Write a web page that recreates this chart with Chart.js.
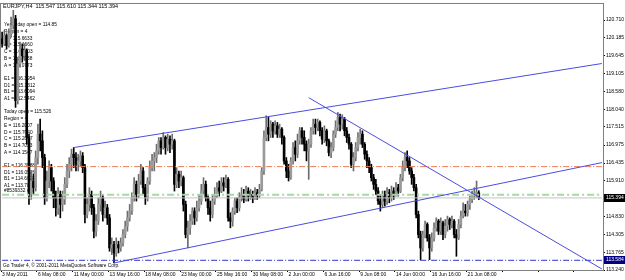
<!DOCTYPE html>
<html>
<head>
<meta charset="utf-8">
<script src="https://cdn.jsdelivr.net/npm/chart.js@4.4.0/dist/chart.umd.min.js"></script>
<style>
  html, body { margin: 0; padding: 0; background: #fff; }
  canvas { display: block; }
</style>
</head>
<body>
<canvas id="chart" width="625" height="280"></canvas>
<script>
// EURJPY H4, 3 May 2011 16:00 .. 22 Jun 2011 04:00 (one value per 4h bar)
const opens = [
  120.15,120.00,120.25,119.95,120.30,120.55,120.75,118.30,119.40,119.85,
  119.65,119.80,117.20,115.50,115.90,115.70,116.60,117.30,117.10,116.60,
  115.40,115.90,116.30,115.90,115.40,115.10,115.50,115.20,115.35,115.80,
  116.20,116.40,116.70,116.60,116.40,116.50,116.65,116.30,114.90,115.20,
  115.50,115.10,114.40,114.70,115.20,115.40,114.90,115.10,114.80,113.90,
  114.00,113.75,114.00,113.90,114.05,114.30,114.55,114.80,115.00,115.40,
  115.80,115.50,115.90,116.20,115.70,115.40,115.90,116.30,116.50,116.60,
  116.80,117.10,116.90,117.20,116.90,117.15,117.00,117.10,115.80,116.10,
  115.90,116.00,115.20,114.30,114.50,114.70,115.00,114.80,115.10,115.30,
  115.60,115.80,115.40,115.10,114.90,115.30,115.50,115.70,115.60,115.85,
  115.75,115.95,114.80,114.70,115.00,115.30,115.10,115.40,115.50,115.35,
  115.60,115.45,115.50,115.40,115.55,115.50,115.65,116.20,117.20,117.50,
  117.30,117.60,117.40,117.55,117.30,117.45,117.20,116.50,116.20,116.00,
  116.50,116.90,116.70,117.10,117.40,117.20,117.00,116.80,117.00,117.40,
  117.60,117.50,117.65,117.40,117.15,117.40,117.10,116.75,116.90,117.30,
  117.50,117.80,117.60,117.75,117.40,117.20,117.00,116.40,116.60,116.90,
  117.20,117.30,117.00,116.70,116.50,116.30,116.00,115.80,115.60,115.30,
  115.20,115.50,115.30,115.55,115.40,115.60,115.50,115.70,115.60,116.00,
  116.30,116.60,116.50,116.20,116.00,115.70,114.90,114.30,113.90,114.30,
  114.60,114.20,113.90,114.20,114.50,114.70,114.40,114.65,114.30,114.55,
  114.75,114.60,114.70,114.30,114.20,114.60,114.85,115.00,114.95,115.20,
  115.35,115.45,115.53,115.547
];
const highs = [
  120.35,120.40,120.30,120.45,120.80,121.00,120.85,119.60,120.05,120.00,
  120.00,119.85,117.30,116.20,116.10,116.80,117.60,117.75,117.40,116.70,
  116.20,116.50,116.40,116.00,115.60,115.70,115.60,115.60,116.00,116.40,
  116.60,116.85,116.90,116.75,116.70,116.80,116.75,116.40,115.40,115.70,
  115.60,115.20,114.90,115.40,115.60,115.50,115.30,115.20,114.90,114.20,
  114.10,114.20,114.10,114.20,114.45,114.70,115.00,115.20,115.55,116.00,
  115.90,116.10,116.40,116.30,115.80,116.00,116.50,116.70,116.75,117.00,
  117.20,117.20,117.35,117.25,117.30,117.25,117.30,117.15,116.30,116.20,
  116.20,116.05,115.30,114.70,114.90,115.10,115.10,115.30,115.50,115.80,
  116.00,115.90,115.50,115.30,115.50,115.70,115.85,115.90,116.00,116.00,
  116.08,116.00,114.95,115.10,115.40,115.40,115.55,115.70,115.65,115.75,
  115.70,115.65,115.60,115.70,115.65,115.80,116.30,117.40,117.85,117.80,
  117.70,117.65,117.70,117.65,117.60,117.50,117.25,116.60,116.40,116.60,
  117.05,117.10,117.30,117.50,117.50,117.40,117.10,117.15,117.50,117.75,
  117.75,117.75,117.70,117.50,117.55,117.45,117.15,117.05,117.40,117.70,
  117.95,117.90,117.88,117.80,117.50,117.30,117.05,116.75,117.05,117.35,
  117.45,117.40,117.05,116.80,116.60,116.40,116.10,115.95,115.70,115.50,
  115.60,115.60,115.70,115.65,115.75,115.70,115.85,115.80,116.10,116.50,
  116.75,116.80,116.60,116.30,116.10,115.80,115.00,114.40,114.40,114.70,
  114.65,114.30,114.35,114.65,114.80,114.75,114.80,114.70,114.75,114.85,
  114.80,114.85,114.75,114.45,114.75,115.00,115.25,115.20,115.30,115.45,
  115.60,115.70,115.90,115.610
];
const lows = [
  119.90,119.95,119.85,119.90,120.20,120.45,118.10,118.20,119.30,119.45,
  119.50,117.00,115.20,115.35,115.50,115.60,116.40,116.80,116.30,115.20,
  115.30,115.70,115.60,115.10,114.85,114.90,114.80,115.00,115.20,115.70,
  116.00,116.20,116.30,116.20,116.20,116.35,116.15,114.65,114.80,115.00,
  114.90,114.20,114.25,114.60,115.00,114.70,114.80,114.60,113.80,113.70,
  113.45,113.65,113.75,113.80,113.95,114.20,114.40,114.70,114.90,115.30,
  115.30,115.40,115.80,115.50,115.20,115.30,115.80,116.20,116.20,116.45,
  116.70,116.70,116.85,116.70,116.80,116.75,116.85,115.60,115.70,115.70,
  115.75,115.00,114.20,113.90,114.30,114.60,114.60,114.70,115.00,115.20,
  115.50,115.30,114.90,114.70,114.80,115.20,115.40,115.45,115.55,115.60,
  115.70,114.70,114.50,114.55,114.90,114.95,115.00,115.30,115.25,115.30,
  115.30,115.35,115.25,115.35,115.35,115.40,115.60,116.10,117.10,117.10,
  117.20,117.20,117.30,117.20,117.20,117.00,116.40,116.00,115.90,115.95,
  116.40,116.50,116.60,117.00,117.00,116.80,116.50,115.95,116.90,117.30,
  117.30,117.40,117.25,117.00,117.05,116.95,116.65,116.60,116.80,117.20,
  117.40,117.40,117.45,117.25,117.05,116.85,116.30,116.20,116.50,116.80,
  117.00,116.90,116.55,116.30,116.15,115.90,115.65,115.50,115.20,115.00,
  115.10,115.15,115.20,115.25,115.30,115.35,115.45,115.45,115.55,115.90,
  116.20,116.30,116.10,115.80,115.60,114.80,114.20,113.55,113.80,114.20,
  114.10,113.55,113.80,114.10,114.40,114.30,114.30,114.15,114.20,114.40,
  114.45,114.50,114.20,113.65,114.15,114.50,114.80,114.85,114.85,115.05,
  115.25,115.35,115.40,115.344
];
const closes = [
  120.00,120.25,119.95,120.30,120.55,120.75,118.30,119.40,119.85,119.65,
  119.80,117.20,115.50,115.90,115.70,116.60,117.30,117.10,116.60,115.40,
  115.90,116.30,115.90,115.40,115.10,115.50,115.20,115.35,115.80,116.20,
  116.40,116.70,116.60,116.40,116.50,116.65,116.30,114.90,115.20,115.50,
  115.10,114.40,114.70,115.20,115.40,114.90,115.10,114.80,113.90,114.00,
  113.75,114.00,113.90,114.05,114.30,114.55,114.80,115.00,115.40,115.80,
  115.50,115.90,116.20,115.70,115.40,115.90,116.30,116.50,116.60,116.80,
  117.10,116.90,117.20,116.90,117.15,117.00,117.10,115.80,116.10,115.90,
  116.00,115.20,114.30,114.50,114.70,115.00,114.80,115.10,115.30,115.60,
  115.80,115.40,115.10,114.90,115.30,115.50,115.70,115.60,115.85,115.75,
  115.95,114.80,114.70,115.00,115.30,115.10,115.40,115.50,115.35,115.60,
  115.45,115.50,115.40,115.55,115.50,115.65,116.20,117.20,117.50,117.30,
  117.60,117.40,117.55,117.30,117.45,117.20,116.50,116.20,116.00,116.50,
  116.90,116.70,117.10,117.40,117.20,117.00,116.80,117.00,117.40,117.60,
  117.50,117.65,117.40,117.15,117.40,117.10,116.75,116.90,117.30,117.50,
  117.80,117.60,117.75,117.40,117.20,117.00,116.40,116.60,116.90,117.20,
  117.30,117.00,116.70,116.50,116.30,116.00,115.80,115.60,115.30,115.20,
  115.50,115.30,115.55,115.40,115.60,115.50,115.70,115.60,116.00,116.30,
  116.60,116.50,116.20,116.00,115.70,114.90,114.30,113.90,114.30,114.60,
  114.20,113.90,114.20,114.50,114.70,114.40,114.65,114.30,114.55,114.75,
  114.60,114.70,114.30,114.20,114.60,114.85,115.00,114.95,115.20,115.35,
  115.45,115.53,115.547,115.394
];

// empty bar slots kept free on the right (chart shift)
const emptyBarsRight = 55;

// time axis: one label every 16 bars, starting at bar 0
const xTickLabels = ['3 May 2011', '6 May 08:00', '11 May 00:00', '13 May 16:00', '18 May 08:00',
  '23 May 00:00', '25 May 16:00', '30 May 08:00', '2 Jun 00:00', '6 Jun 16:00',
  '9 Jun 08:00', '14 Jun 00:00', '16 Jun 16:00', '21 Jun 08:00'];
const xTickStep = 16;

// price axis
const yTickValues = [120.710, 120.185, 119.645, 119.105, 118.580, 118.040, 117.515,
  116.975, 116.435, 115.910, 114.830, 114.305, 113.765, 113.240];
const yMin = 113.24;
const yMax = 121.19;

// trend lines: [bar index, price] anchors, extended to the right edge
const upperLine = [[32, 116.90], [118, 117.815]];
const lowerLine = [[50, 113.45], [268, 116.45]];
const fallingLine = [[137, 118.39], [268, 113.27]];

// horizontal levels
const orangeLevel = 116.33;
const orderLevel = 115.49;
const bidPrice = 115.394;
const blueLevel = 113.53;
const blueLevelText = '113.584';

const headerText = 'EURJPY,H4  115.547 115.610 115.344 115.394';
const commentLines = [
  'Yesterday open = 114.85', 'Region = 4', 'E = 115.6633', 'D = 115.1660', 'C = 114.4703',
  'B = 113.7738', 'A = 113.0773', '',
  'E1 = 116.3954', 'D1 = 115.3312', 'B1 = 113.6094', 'A1 = 112.5462', '',
  'Today open = 115.526', 'Region = 4', 'E = 116.2007', 'D = 115.7040', 'C = 115.2047',
  'B = 114.7033', 'A = 114.1547', '',
  'E1 = 116.3988', 'D1 = 116.0526', 'B1 = 114.6028', 'A1 = 113.7866'
];
const orderText = '#8539332 sell';
const copyrightText = 'Go Trader 4, \u00a9 2001-2011 MetaQuotes Software Corp.';

const barSlots = closes.length + emptyBarsRight;
const labels = Array.from({ length: barSlots }, (_, i) => i);
const isUp = closes.map((c, i) => c >= opens[i]);

function rayData(anchors) {
  const [[i1, p1], [i2, p2]] = anchors;
  const last = barSlots - 1;
  const data = new Array(barSlots).fill(null);
  data[i1] = p1;
  data[last] = p1 + (p2 - p1) * (last - i1) / (i2 - i1);
  return data;
}
function levelData(value) {
  const data = new Array(barSlots).fill(null);
  data[0] = value;
  data[barSlots - 1] = value;
  return data;
}
function lineSet(data, color, width, dash) {
  return {
    type: 'line', data, borderColor: color, borderWidth: width, borderDash: dash || [],
    pointRadius: 0, spanGaps: true, tension: 0, order: 0
  };
}

const FONT = '"Liberation Sans", Arial, sans-serif';

const overlay = {
  id: 'overlay',
  beforeDatasetsDraw(chart) {
    const { ctx, chartArea: a } = chart;
    ctx.save();
    ctx.fillStyle = '#000';
    ctx.textBaseline = 'middle';
    ctx.font = '5.5px ' + FONT;
    ctx.fillText(headerText, a.left + 2, 6);
    ctx.font = '4.8px ' + FONT;
    commentLines.forEach((t, k) => {
      if (t) ctx.fillText(t, a.left + 3, 25 + k * 6.7);
    });
    ctx.fillText(orderText, a.left + 3, 191);
    ctx.fillText(copyrightText, a.left + 2, 266);
    ctx.restore();
  },
  afterDraw(chart) {
    const { ctx, chartArea: a } = chart;
    const y = chart.scales.y;
    ctx.save();
    ctx.strokeStyle = '#808080';
    ctx.lineWidth = 1;
    ctx.strokeRect(a.left - 0.5, a.top - 0.5, a.right - a.left + 1, a.bottom - a.top + 1);
    ctx.font = '5px ' + FONT;
    ctx.textBaseline = 'middle';
    const boxes = [[bidPrice, bidPrice.toFixed(3), '#000'], [blueLevel, blueLevelText, '#000080']];
    boxes.forEach(([v, t, bg]) => {
      const py = Math.round(y.getPixelForValue(v));
      ctx.fillStyle = bg;
      ctx.fillRect(a.right + 1, py - 4, 625 - a.right - 1, 8);
      ctx.fillStyle = '#fff';
      ctx.fillText(t, a.right + 3, py);
    });
    ctx.restore();
  }
};

Chart.defaults.font.family = FONT;
Chart.defaults.font.size = 5;
Chart.defaults.color = '#000';

new Chart(document.getElementById('chart'), {
  type: 'bar',
  data: {
    labels,
    datasets: [
      lineSet(rayData(upperLine), '#4c4ce0', 1),
      lineSet(rayData(lowerLine), '#4c4ce0', 1),
      lineSet(rayData(fallingLine), '#4c4ce0', 1),
      lineSet(levelData(orangeLevel), '#f07a55', 1, [6, 2, 1, 2]),
      lineSet(levelData(orderLevel), '#a6d8a6', 2, [7, 3, 2, 3]),
      lineSet(levelData(bidPrice), '#c4c4c4', 1),
      lineSet(levelData(blueLevel), '#3434c8', 1, [6, 2, 1, 2]),
      {
        label: 'body', data: opens.map((o, i) => [o, closes[i]]),
        backgroundColor: isUp.map(u => u ? '#9a9a9a' : '#000'),
        barThickness: 2, minBarLength: 1, grouped: false, borderWidth: 0, order: 2
      },
      {
        label: 'wick', data: lows.map((l, i) => [l, highs[i]]),
        backgroundColor: isUp.map(u => u ? '#6e6e6e' : '#000'),
        barThickness: 1, grouped: false, borderWidth: 0, order: 3
      }
    ]
  },
  options: {
    responsive: false,
    animation: false,
    events: [],
    layout: { padding: { top: 3, left: 1, right: 0, bottom: 0 } },
    plugins: { legend: { display: false }, tooltip: { enabled: false } },
    scales: {
      x: {
        offset: true,
        afterFit: s => { s.height = 10; },
        grid: {
          drawOnChartArea: false, tickLength: 2,
          color: c => (c.index % xTickStep === 0 ? '#000' : 'rgba(0,0,0,0)')
        },
        border: { color: '#808080' },
        ticks: {
          autoSkip: false, maxRotation: 0, padding: 0, align: 'start',
          callback: (v, i) => (i % xTickStep === 0 && xTickLabels[i / xTickStep]) ? xTickLabels[i / xTickStep] : ''
        }
      },
      y: {
        position: 'right',
        min: yMin,
        max: yMax,
        afterFit: s => { s.width = 22; },
        afterBuildTicks: s => { s.ticks = yTickValues.map(v => ({ value: v })); },
        grid: { drawOnChartArea: false, tickLength: 2, color: '#000' },
        border: { color: '#808080' },
        ticks: { padding: 1, callback: v => v.toFixed(3) }
      }
    }
  },
  plugins: [overlay]
});
</script>
</body>
</html>
